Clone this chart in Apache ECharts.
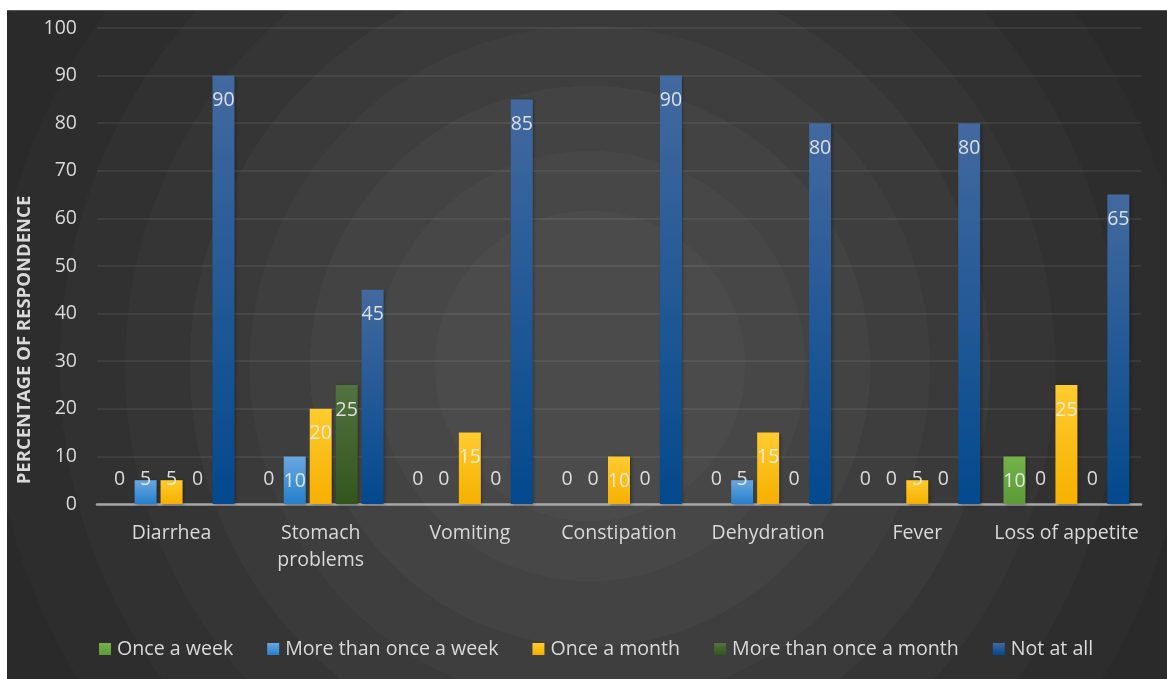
<!DOCTYPE html>
<html>
<head>
<meta charset="utf-8">
<script src="https://cdn.jsdelivr.net/npm/echarts@6/dist/echarts.min.js"></script>
<style>
  html, body { margin: 0; padding: 0; background: #ffffff; }
  #chart {
    position: absolute;
    left: 7px;
    top: 10px;
    width: 1160px;
    height: 669px;
    box-sizing: border-box;
    border-top: 1px solid #5a5a5a;
    background: radial-gradient(circle at 583px 355px,
      #4b4b4b 0, #4b4b4b 155px,
      #474747 155px, #474747 215px,
      #434343 215px, #434343 280px,
      #3e3e3e 280px, #3e3e3e 340px,
      #3a3a3a 340px, #3a3a3a 400px,
      #353535 400px, #353535 465px,
      #313131 465px, #313131 530px,
      #2d2d2d 530px, #2d2d2d 600px,
      #2a2a2a 600px, #2a2a2a 680px,
      #262626 680px);
  }
</style>
</head>
<body>
<div id="chart"></div>
<script>
// Symptom categories along the x axis
const categories = ['Diarrhea', 'Stomach\nproblems', 'Vomiting', 'Constipation', 'Dehydration', 'Fever', 'Loss of appetite'];

// Percentage of respondents per frequency
const onceAWeek = [0, 0, 0, 0, 0, 0, 10];
const moreThanOnceAWeek = [5, 10, 0, 0, 5, 0, 0];
const onceAMonth = [5, 20, 15, 10, 15, 5, 25];
const moreThanOnceAMonth = [0, 25, 0, 0, 0, 0, 0];
const notAtAll = [90, 45, 85, 90, 80, 80, 65];

const seriesNames = ['Once a week', 'More than once a week', 'Once a month', 'More than once a month', 'Not at all'];
const seriesValues = [onceAWeek, moreThanOnceAWeek, onceAMonth, moreThanOnceAMonth, notAtAll];

// Axis scale
const yMin = 0;
const yMax = 100;
const yStep = 10;

const FONT = '"Open Sans", "Noto Sans", sans-serif';
const TEXT = '#d9d9d9';

// Top and bottom colours of each bar gradient
const barColors = [
  ['#74b24b', '#5c9a37'],
  ['#6aa7df', '#2580cc'],
  ['#ffcb2e', '#f6b000'],
  ['#527240', '#33551d'],
  ['#43699f', '#03498d']
];

function gradient(pair) {
  return new echarts.graphic.LinearGradient(0, 0, 0, 1, [
    { offset: 0, color: pair[0] },
    { offset: 1, color: pair[1] }
  ]);
}

const series = seriesNames.map((name, i) => ({
  name: name,
  type: 'bar',
  barWidth: 22,
  barGap: '18%',
  itemStyle: {
    color: gradient(barColors[i]),
    shadowColor: 'rgba(0,0,0,0.35)',
    shadowBlur: 3,
    shadowOffsetX: 1.5,
    shadowOffsetY: 1
  },
  label: {
    show: true,
    distance: 15,
    color: 'rgba(240,240,240,0.88)',
    fontFamily: FONT,
    fontSize: 19.5
  },
  // tall bars carry their value just inside the top; short ones sit on the baseline
  data: seriesValues[i].map(v => ({
    value: v,
    label: { position: v >= 10 ? 'insideTop' : 'insideBottom' }
  }))
}));

const chart = echarts.init(document.getElementById('chart'), null, { renderer: 'canvas' });

chart.setOption({
  backgroundColor: 'transparent',
  animation: false,
  grid: { left: 90, right: 26, top: 17, bottom: 175, containLabel: false },
  legend: {
    data: seriesNames.map(n => ({ name: n, icon: 'rect' })),
    left: 87,
    top: 623,
    itemWidth: 12,
    itemHeight: 12,
    itemGap: 34,
    textStyle: { color: TEXT, fontFamily: FONT, fontSize: 19.6, padding: [0, 0, 0, 1] }
  },
  xAxis: {
    type: 'category',
    data: categories,
    axisTick: { show: false },
    axisLine: { lineStyle: { color: '#a6a6a6', width: 2.5 } },
    axisLabel: {
      color: TEXT,
      fontFamily: FONT,
      fontSize: 19.5,
      lineHeight: 27,
      margin: 16,
      interval: 0
    }
  },
  yAxis: {
    type: 'value',
    min: yMin,
    max: yMax,
    interval: yStep,
    axisLine: { show: false },
    axisTick: { show: false },
    splitLine: { lineStyle: { color: 'rgba(255,255,255,0.09)', width: 1.5 } },
    axisLabel: { color: TEXT, fontFamily: FONT, fontSize: 19.5, margin: 20 }
  },
  graphic: [{
    type: 'text',
    x: 18,
    y: 329,
    rotation: Math.PI / 2,
    style: {
      text: 'PERCENTAGE OF RESPONDENCE',
      fill: TEXT,
      font: 'bold 18.5px "Open Sans", "Noto Sans", sans-serif',
      align: 'center',
      verticalAlign: 'middle'
    }
  }],
  series: series
});
</script>
</body>
</html>
